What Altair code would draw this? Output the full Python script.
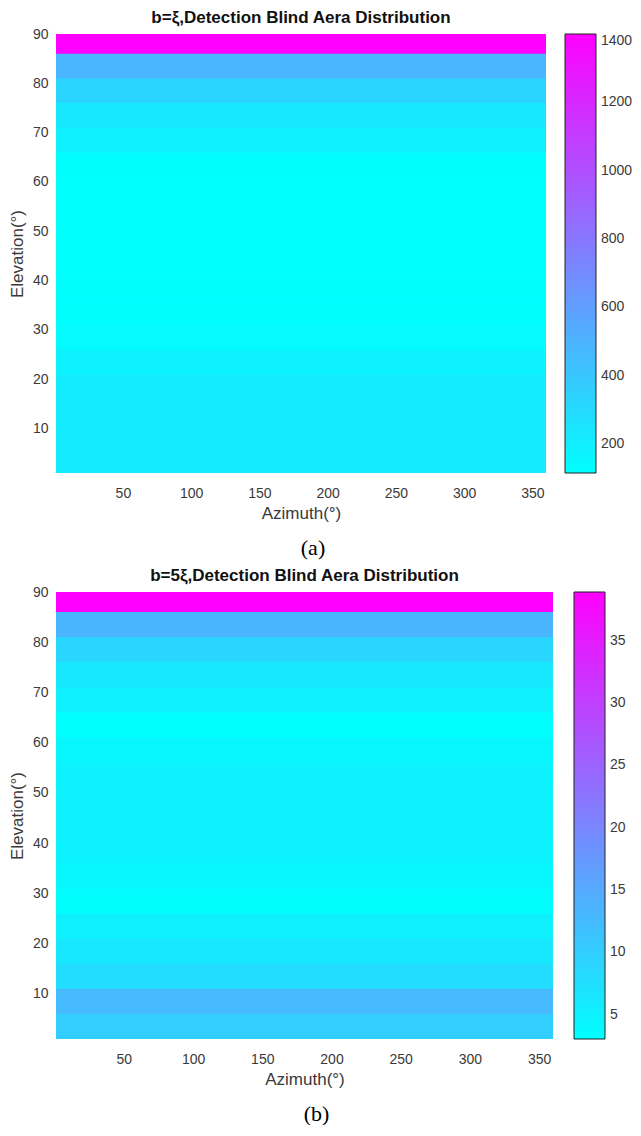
import altair as alt
import pandas as pd

# Elevation band edges (degrees)
el_lo = [1, 6, 11, 16, 21, 26, 31, 36, 41, 46, 51, 56, 61, 66, 71, 76, 81, 86]
el_hi = [6, 11, 16, 21, 26, 31, 36, 41, 46, 51, 56, 61, 66, 71, 76, 81, 86, 90]
az_lo = [1] * len(el_lo)
az_hi = [360] * len(el_lo)

# Blind-area values per elevation band (constant over azimuth)
blind_a = [215, 215, 215, 210, 180, 140, 125, 118, 116, 115, 115, 117, 125, 190, 230, 325, 485, 1400]
blind_b = [9.9, 12.8, 7.8, 6.3, 5.2, 3.3, 4.2, 4.8, 5.0, 5.0, 4.8, 4.2, 3.1, 5.2, 6.3, 8.8, 13.5, 38.9]

x_ticks = [50, 100, 150, 200, 250, 300, 350]
y_ticks = [10, 20, 30, 40, 50, 60, 70, 80, 90]
cb_ticks_a = [200, 400, 600, 800, 1000, 1200, 1400]
cb_ticks_b = [5, 10, 15, 20, 25, 30, 35]
cb_domain_a = [115, 1400]
cb_domain_b = [3.06, 38.9]

FONT = "Liberation Sans"
GREY = "#3a3a3a"


def panel(values, title, caption, cb_ticks, cb_domain, w, h, lx):
    df = pd.DataFrame({"el0": el_lo, "el1": el_hi, "az0": az_lo, "az1": az_hi, "v": values})
    cscale = alt.Scale(domain=cb_domain, range=["#00ffff", "#ff00ff"],
                       interpolate="rgb", nice=False, zero=False)
    # extend each band a hair into the next one (drawn later) so no antialiasing seams show
    heat = alt.Chart(df).transform_calculate(
        el1s="min(datum.el1 + 0.3, 90)"
    ).mark_rect().encode(
        x=alt.X("az0:Q", scale=alt.Scale(domain=[1, 360], nice=False, zero=False),
                axis=alt.Axis(values=x_ticks, title="Azimuth(°)", domain=False, ticks=False,
                              grid=False, labelFont=FONT, labelFontSize=14, labelColor=GREY,
                              labelPadding=13, titleFont=FONT, titleFontSize=17,
                              titleFontWeight="normal", titleColor=GREY, titlePadding=5)),
        x2="az1:Q",
        y=alt.Y("el0:Q", scale=alt.Scale(domain=[1, 90], nice=False, zero=False),
                axis=alt.Axis(values=y_ticks, title="Elevation(°)", domain=False, ticks=False,
                              grid=False, labelFont=FONT, labelFontSize=14, labelColor=GREY,
                              labelPadding=8, titleFont=FONT, titleFontSize=17,
                              titleFontWeight="normal", titleColor=GREY, titlePadding=6)),
        y2="el1s:Q",
        color=alt.Color("v:Q", title=None, scale=cscale,
                        legend=alt.Legend(orient="none", legendX=lx, legendY=0,
                                          direction="vertical", gradientLength=h,
                                          gradientThickness=31, gradientStrokeColor="#222222",
                                          gradientStrokeWidth=1, values=cb_ticks, format="d",
                                          labelFont=FONT, labelFontSize=14, labelColor=GREY,
                                          labelOffset=5, labelOverlap=False)),
    )
    cap = alt.Chart(pd.DataFrame({"t": [caption]})).mark_text(
        font="Liberation Serif", fontSize=22, color="#000000", baseline="middle"
    ).encode(text="t:N", x=alt.value(w / 2 + 12), y=alt.value(h + 75))
    return alt.layer(heat, cap).properties(
        width=w, height=h,
        title=alt.TitleParams(title, font=FONT, fontSize=17, fontWeight="bold",
                              color="#111111", frame="group", anchor="middle", offset=0),
    )


pa = panel(blind_a, "b=ξ,Detection Blind Aera Distribution", "(a)", cb_ticks_a, cb_domain_a,
           490, 439, 509)
pb = panel(blind_b, "b=5ξ,Detection Blind Aera Distribution", "(b)", cb_ticks_b, cb_domain_b,
           497, 447, 518)

chart = alt.vconcat(pa, pb, spacing=8).resolve_scale(color="independent").properties(
    padding={"top": 1, "left": 0, "right": 0, "bottom": 0}
).configure_view(stroke=None)

chart.save("out.html", embed_options={"renderer": "svg", "actions": False})
